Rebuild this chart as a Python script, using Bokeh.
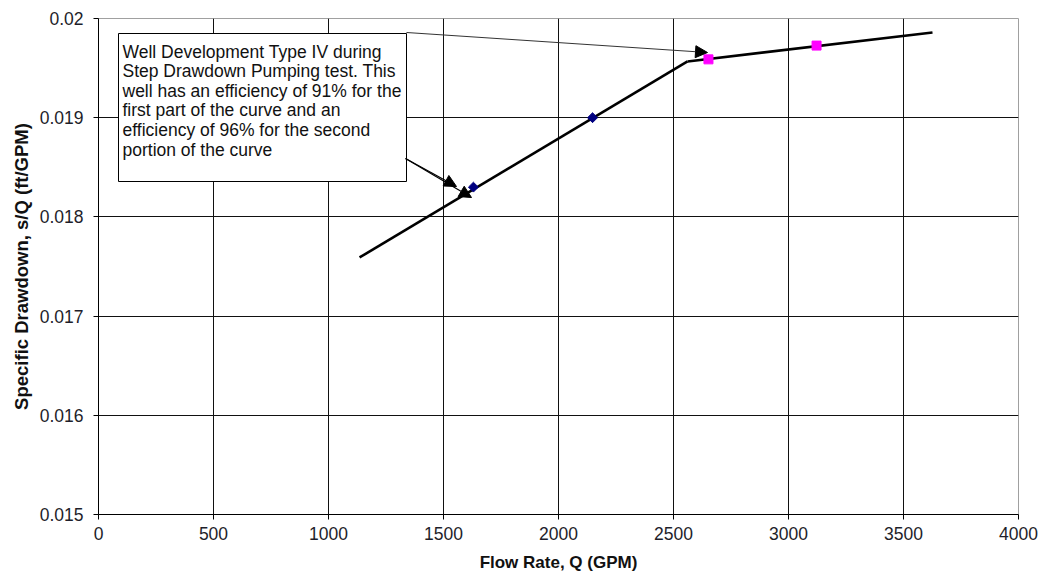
import math
from bokeh.plotting import figure
from bokeh.models import (Range1d, FixedTicker, BoxAnnotation, Label, Arrow,
                          NormalHead)
from bokeh.embed import file_html
from bokeh.resources import INLINE

# ---------------- data ----------------
x_ticks = [0, 500, 1000, 1500, 2000, 2500, 3000, 3500, 4000]
y_ticks = [0.015, 0.016, 0.017, 0.018, 0.019, 0.02]
y_tick_labels = ["0.015", "0.016", "0.017", "0.018", "0.019", "0.02"]

# observed step test points
diamond_q = [1630, 2148]
diamond_sq = [0.01830, 0.01900]
square_q = [2652, 3122]
square_sq = [0.019588, 0.019727]

# fitted segments
fit1_q = [1135, 2561]
fit1_sq = [0.017591, 0.019567]
fit2_q = [2561, 3626]
fit2_sq = [0.019567, 0.019859]

note_lines = [
    "Well Development Type IV during",
    "Step Drawdown Pumping test. This",
    "well has an efficiency of 91% for the",
    "first part of the curve and an",
    "efficiency of 96% for the second",
    "portion of the curve",
]

FONT = "Liberation Sans"

# frame geometry (pixels)
W, H = 1044, 584
L, R, T, B = 98, 26, 18, 70
FW, FH = W - L - R, H - T - B
X0, X1 = 0, 4000
Y0, Y1 = 0.015, 0.02


def px_x(px):
    return X0 + (px - L) / FW * (X1 - X0)


def px_y(py):
    return Y1 - (py - T) / FH * (Y1 - Y0)


p = figure(width=W, height=H, x_range=Range1d(X0, X1), y_range=Range1d(Y0, Y1),
           output_backend="svg", toolbar_location=None,
           min_border_left=L, min_border_right=R, min_border_top=T,
           min_border_bottom=B, background_fill_color="white",
           border_fill_color="white")

p.outline_line_color = "#a0a0a0"
p.outline_line_width = 1

p.xaxis.ticker = FixedTicker(ticks=x_ticks)
p.yaxis.ticker = FixedTicker(ticks=y_ticks)
p.yaxis.major_label_overrides = dict(zip(y_ticks, y_tick_labels))

for ax in (p.xaxis, p.yaxis):
    ax.axis_line_color = "black"
    ax.axis_line_width = 1
    ax.major_tick_line_color = "black"
    ax.major_tick_out = 5
    ax.major_tick_in = 0
    ax.minor_tick_line_color = None
    ax.major_label_text_font = FONT
    ax.major_label_text_font_size = "17.5px"
    ax.major_label_text_color = "#1e1e2a"
    ax.axis_label_text_font = FONT
    ax.axis_label_text_font_style = "bold"
    ax.axis_label_text_color = "#111111"

p.xaxis.axis_label = "Flow Rate, Q (GPM)"
p.xaxis.axis_label_text_font_size = "17px"
p.xaxis.major_label_standoff = 7
p.xaxis.axis_label_standoff = 10

p.yaxis.axis_label = "Specific Drawdown, s/Q (ft/GPM)"
p.yaxis.axis_label_text_font_size = "18.5px"
p.yaxis.major_label_standoff = 10
p.yaxis.axis_label_standoff = 5

p.grid.grid_line_color = "#111111"
p.grid.grid_line_width = 1
p.grid.grid_line_alpha = 1.0

# fitted lines
p.line(fit1_q, fit1_sq, line_color="black", line_width=2.6)
p.line(fit2_q, fit2_sq, line_color="black", line_width=2.6)

# markers
p.scatter(diamond_q, diamond_sq, marker="square", size=7, angle=math.pi / 4,
          fill_color="#000080", line_color="#000080")
p.scatter(square_q, square_sq, marker="square", size=9,
          fill_color="#FF00FF", line_color="#FF00FF")

# annotation box
box = BoxAnnotation(left=px_x(118), right=px_x(406), top=px_y(33), bottom=px_y(181),
                    fill_color="white", fill_alpha=1.0, line_color="black",
                    line_width=1, line_alpha=1.0)
p.add_layout(box)

for i, txt in enumerate(note_lines):
    p.add_layout(Label(x=px_x(122), y=px_y(51 + 19.6 * i), text=txt,
                       text_font=FONT, text_font_size="17.5px",
                       text_color="#111111", text_baseline="alphabetic"))

# arrows
head = dict(size=12, fill_color="black", line_color="black")
p.add_layout(Arrow(x_start=px_x(406), y_start=px_y(32), x_end=px_x(707), y_end=px_y(52),
                   line_color="#333333", line_width=1, end=NormalHead(**head)))
p.add_layout(Arrow(x_start=px_x(405), y_start=px_y(158), x_end=px_x(456), y_end=px_y(186),
                   line_color="black", line_width=1.2, end=NormalHead(**head)))
p.add_layout(Arrow(x_start=px_x(405), y_start=px_y(158), x_end=px_x(471), y_end=px_y(197),
                   line_color="black", line_width=1.2, end=NormalHead(**head)))

open("out.html", "w").write(file_html(p, INLINE))
